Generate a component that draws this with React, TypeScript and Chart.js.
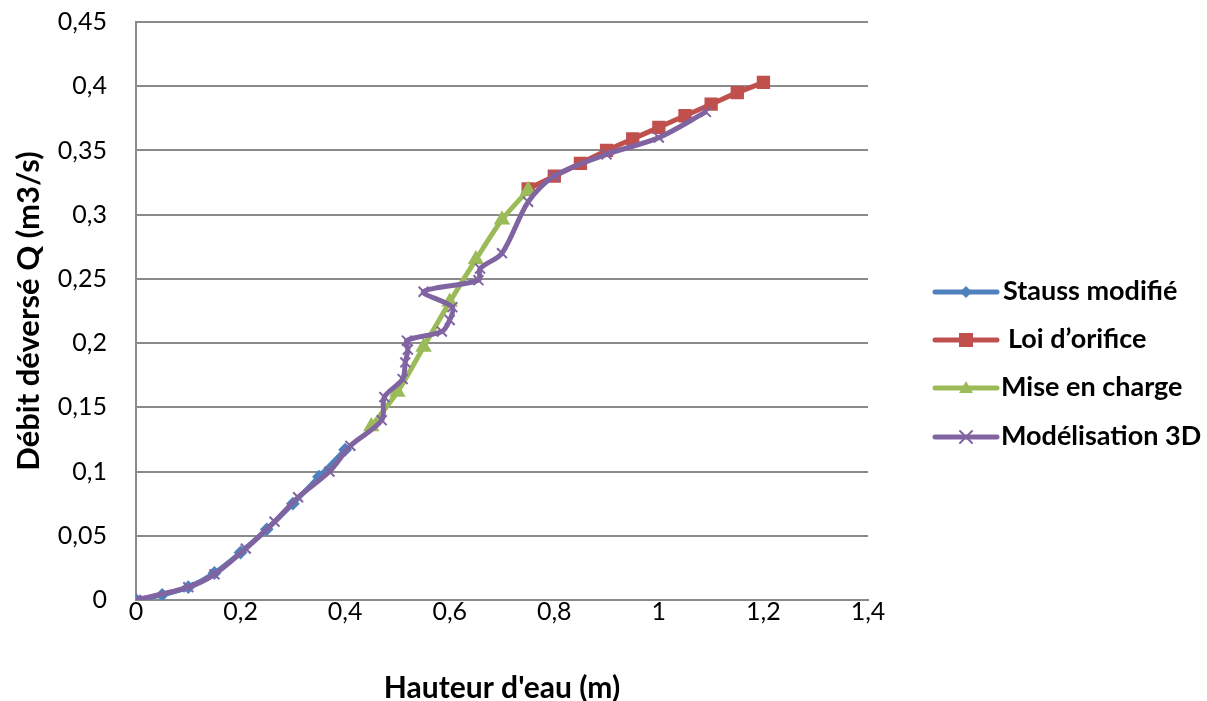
import React, { useEffect, useRef } from "react";
import { Chart, registerables } from "chart.js";

Chart.register(...registerables);

const seriesNames = ["Stauss modifié", "Loi d’orifice", "Mise en charge", "Modélisation 3D"];
const seriesColors = ["#4F81BD", "#C0504D", "#9BBB59", "#8064A2"];
const seriesMarkers = ["rectRot", "rect", "triangle", "crossRot"];

const stausX = [0, 0.05, 0.1, 0.15, 0.2, 0.25, 0.3, 0.35, 0.4];
const stausY = [0, 0.004, 0.01, 0.021, 0.037, 0.055, 0.075, 0.096, 0.117];

const orificeX = [0.75, 0.8, 0.85, 0.9, 0.95, 1.0, 1.05, 1.1, 1.15, 1.2];
const orificeY = [0.32, 0.33, 0.34, 0.35, 0.359, 0.368, 0.377, 0.386, 0.395, 0.403];

const chargeX = [0.45, 0.5, 0.55, 0.6, 0.65, 0.7, 0.75];
const chargeY = [0.135, 0.162, 0.197, 0.232, 0.265, 0.296, 0.319];

const modelX = [0, 0.1, 0.15, 0.21, 0.265, 0.31, 0.37, 0.41, 0.47, 0.475, 0.51, 0.515, 0.52, 0.518, 0.585, 0.6, 0.605, 0.55, 0.655, 0.658, 0.7, 0.75, 0.8, 0.9, 1.0, 1.09];
const modelY = [0, 0.01, 0.02, 0.04, 0.061, 0.08, 0.1, 0.12, 0.14, 0.158, 0.172, 0.185, 0.195, 0.202, 0.209, 0.218, 0.228, 0.24, 0.249, 0.258, 0.27, 0.31, 0.33, 0.347, 0.36, 0.38];

const xTickLabels = ["0", "0,2", "0,4", "0,6", "0,8", "1", "1,2", "1,4"];
const yTickLabels = ["0", "0,05", "0,1", "0,15", "0,2", "0,25", "0,3", "0,35", "0,4", "0,45"];

const xTitle = "Hauteur d'eau (m)";
const yTitle = "Débit déversé Q (m3/s)";

const FONT = "Lato, 'Open Sans', sans-serif";
const SHIFT = 22;

function pts(xs: number[], ys: number[]) {
  return xs.map((x, i) => ({ x, y: ys[i] }));
}

function drawMarker(ctx: CanvasRenderingContext2D, style: string, x: number, y: number, color: string) {
  ctx.save();
  ctx.fillStyle = color;
  ctx.strokeStyle = color;
  ctx.lineWidth = 2;
  ctx.beginPath();
  if (style === "rectRot") {
    const r = 6;
    ctx.moveTo(x, y - r);
    ctx.lineTo(x + r, y);
    ctx.lineTo(x, y + r);
    ctx.lineTo(x - r, y);
    ctx.closePath();
    ctx.fill();
  } else if (style === "rect") {
    ctx.rect(x - 7, y - 7, 14, 14);
    ctx.fill();
  } else if (style === "triangle") {
    const r = 7;
    ctx.moveTo(x, y - r);
    ctx.lineTo(x + r, y + r * 0.7);
    ctx.lineTo(x - r, y + r * 0.7);
    ctx.closePath();
    ctx.fill();
  } else {
    const r = 6;
    ctx.moveTo(x - r, y - r);
    ctx.lineTo(x + r, y + r);
    ctx.moveTo(x + r, y - r);
    ctx.lineTo(x - r, y + r);
    ctx.stroke();
  }
  ctx.restore();
}

const legendPlugin = {
  id: "customLegend",
  afterDraw(chart: any) {
    const ctx: CanvasRenderingContext2D = chart.ctx;
    const ys = [292, 340, 388, 437];
    const textX = [1003, 1008, 1001, 1001];
    ctx.save();
    seriesNames.forEach((name, i) => {
      const y = ys[i] + SHIFT;
      ctx.strokeStyle = seriesColors[i];
      ctx.lineWidth = 5;
      ctx.lineCap = "round";
      ctx.beginPath();
      ctx.moveTo(935, y);
      ctx.lineTo(997, y);
      ctx.stroke();
      drawMarker(ctx, seriesMarkers[i], 966, y, seriesColors[i]);
      ctx.fillStyle = "#000";
      ctx.font = "bold 27px " + FONT;
      ctx.textBaseline = "middle";
      ctx.textAlign = "left";
      ctx.fillText(name, textX[i], y - 1);
    });
    ctx.restore();
  },
};

export default function App() {
  const ref = useRef<HTMLCanvasElement | null>(null);

  useEffect(() => {
    if (!ref.current) return;
    const xs = [stausX, orificeX, chargeX, modelX];
    const ysAll = [stausY, orificeY, chargeY, modelY];
    const orders = [3, 2, 1, 0];
    const radii = [5.5, 8, 7.5, 7];
    const chart = new Chart(ref.current, {
      type: "scatter",
      data: {
        datasets: seriesNames.map((name, i) => ({
          label: name,
          data: pts(xs[i], ysAll[i]),
          showLine: true,
          borderColor: seriesColors[i],
          backgroundColor: seriesColors[i],
          borderWidth: 5,
          tension: 0.3,
          pointStyle: seriesMarkers[i] as any,
          pointRadius: radii[i],
          pointBorderWidth: 2,
          pointBorderColor: seriesColors[i],
          pointBackgroundColor: seriesColors[i],
          order: orders[i],
        })),
      },
      plugins: [legendPlugin],
      options: {
        responsive: false,
        animation: false,
        layout: { padding: { top: 0, right: 339, bottom: 0, left: 0 } },
        plugins: {
          legend: { display: false },
          tooltip: { enabled: false },
        },
        scales: {
          x: {
            type: "linear",
            min: 0,
            max: 1.4,
            afterFit: (s: any) => {
              s.height = 101;
            },
            ticks: {
              stepSize: 0.2,
              color: "#000",
              font: { family: FONT, size: 25 },
              padding: -3,
              maxRotation: 0,
              callback: (_v: any, i: number) => xTickLabels[i],
            },
            grid: { display: false, drawTicks: false },
            border: { display: true, color: "#8a8a8a", width: 2 },
            title: {
              display: true,
              text: xTitle,
              color: "#000",
              font: { family: FONT, size: 30, weight: "bold", lineHeight: 1 },
              padding: { top: 0, bottom: -2 },
            },
          },
          y: {
            type: "linear",
            min: 0,
            max: 0.45,
            afterFit: (s: any) => {
              s.width = 136;
            },
            ticks: {
              stepSize: 0.05,
              color: "#000",
              font: { family: FONT, size: 25 },
              padding: 29,
              callback: (_v: any, i: number) => yTickLabels[i],
            },
            grid: { color: "#8a8a8a", lineWidth: 2, drawTicks: false },
            border: { display: true, color: "#8a8a8a", width: 2 },
            title: {
              display: true,
              text: yTitle,
              color: "#000",
              font: { family: FONT, size: 31, weight: "bold", lineHeight: 1 },
              padding: { top: 13, bottom: 0 },
            },
          },
        },
      },
    });
    return () => chart.destroy();
  }, []);

  return (
    <div style={{ position: "fixed", left: 0, top: 0, width: 1207, height: 701, background: "#fff", overflow: "hidden" }}>
      <canvas
        ref={ref}
        width={1207}
        height={701 + SHIFT}
        style={{ display: "block", position: "absolute", left: 0, top: -SHIFT }}
      />
    </div>
  );
}
